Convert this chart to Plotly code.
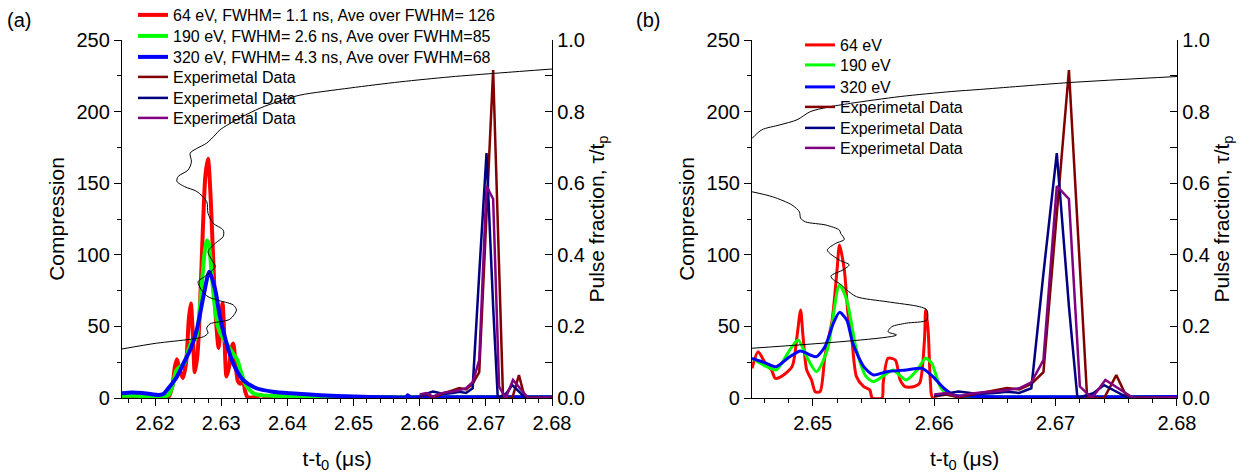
import plotly.graph_objects as go

# ---------------- Panel (a): simulated compression ----------------
a_t64 = [2.6150, 2.6160, 2.6170, 2.6180, 2.6190, 2.6200, 2.6210, 2.6220, 2.6226, 2.6230,
         2.6233, 2.6237, 2.6242, 2.6247, 2.6251, 2.6254, 2.6257, 2.6260, 2.6264, 2.6268,
         2.6272, 2.6276, 2.6280, 2.6284, 2.6288, 2.6292, 2.6296, 2.6299, 2.6302, 2.6305,
         2.6308, 2.6312, 2.6315, 2.6318, 2.6321, 2.6325, 2.6329, 2.6333, 2.6336, 2.6340,
         2.6350, 2.6360, 2.6370, 2.6380, 2.6390, 2.6400, 2.6420, 2.6450, 2.6500, 2.6600,
         2.6700, 2.6800]
a_y64 = [0.5, 1.5, 0.5, 0.5, 1.5, 0.5, 0.5, 0.5, 8, 22,
         27, 20, 14, 25, 55, 66, 45, 18, 30, 65,
         115, 155, 167, 140, 95, 55, 35, 50, 66, 40,
         15, 22, 34, 38, 28, 12, 10, 12, 5, 0.5,
         0.5, 2, 0.5, 2, 0.5, 0.5, 0.5, 0.3, 0.3, 0.3,
         0.3, 0.3]

a_t190 = [2.6150, 2.6170, 2.6190, 2.6210, 2.6220, 2.6226, 2.6232, 2.6238, 2.6244, 2.6250,
          2.6256, 2.6262, 2.6266, 2.6270, 2.6274, 2.6278, 2.6281, 2.6285, 2.6290, 2.6295,
          2.6300, 2.6306, 2.6312, 2.6318, 2.6324, 2.6330, 2.6336, 2.6342, 2.6350, 2.6360,
          2.6380, 2.6400, 2.6424, 2.6450, 2.6500, 2.6600, 2.6800]
a_y190 = [1.5, 1.5, 1.0, 1.0, 2.0, 8, 19, 22, 24, 33,
          40, 42, 55, 75, 98, 110, 108, 90, 65, 50,
          44, 40, 35, 31, 27, 18, 10, 6, 3, 2,
          1.5, 1.2, 1.0, 0.8, 0.6, 0.5, 0.5]

a_t320 = [2.6150, 2.6165, 2.6180, 2.6195, 2.6205, 2.6213, 2.6222, 2.6233, 2.6243, 2.6253,
          2.6263, 2.6273, 2.6282, 2.6291, 2.6298, 2.6308, 2.6318, 2.6333, 2.6353, 2.6378,
          2.6404, 2.6450, 2.6500, 2.6550, 2.6580, 2.6582, 2.6585, 2.6600, 2.6800]
a_y320 = [3.3, 3.8, 3.5, 2.6, 2.1, 3.0, 7.9, 14.9, 24.2, 33.5,
          47.5, 70.7, 88.2, 75.4, 56.8, 38.2, 24.2, 12.6, 6.8, 4.4,
          3.3, 2.0, 1.0, 0.6, 0.6, 2.0, 0.6, 0.5, 0.5]

# Pulse fraction (tau/t_p) versus arrival time, panel (a)
a_frac_t = [2.6150, 2.6202, 2.6253, 2.6273, 2.6280, 2.6278, 2.6283, 2.6313, 2.6323, 2.6318,
            2.6293, 2.6280, 2.6270, 2.6265, 2.6275, 2.6291, 2.6286, 2.6280, 2.6291, 2.6303,
            2.6303, 2.6288, 2.6280, 2.6278, 2.6263, 2.6245, 2.6233, 2.6235, 2.6250, 2.6255,
            2.6253, 2.6263, 2.6278, 2.6291, 2.6298, 2.6328, 2.6359, 2.6389, 2.6419, 2.6495,
            2.6570, 2.6646, 2.6721, 2.6800]
a_frac = [0.137, 0.153, 0.164, 0.171, 0.181, 0.195, 0.207, 0.220, 0.246, 0.260,
          0.274, 0.283, 0.302, 0.325, 0.339, 0.367, 0.385, 0.409, 0.432, 0.451,
          0.469, 0.488, 0.516, 0.549, 0.577, 0.590, 0.605, 0.619, 0.637, 0.660,
          0.684, 0.697, 0.712, 0.735, 0.749, 0.782, 0.810, 0.830, 0.846, 0.866,
          0.883, 0.897, 0.908, 0.919]

# ---------------- Experimental data (both panels) ----------------
exp1_t = [2.6600, 2.6610, 2.6620, 2.6630, 2.6640, 2.6650, 2.6660, 2.6670, 2.6680, 2.6690,
          2.6711, 2.6726, 2.6740, 2.6750, 2.6759, 2.6770, 2.6800]
exp1_y = [1.0, 2.5, 0.5, 2.0, 4.0, 5.0, 7.0, 6.0, 9.8, 18.0,
          229.0, 0.0, 0.0, 16.0, 0.0, 0.5, 0.5]

exp2_t = [2.6600, 2.6610, 2.6620, 2.6630, 2.6640, 2.6650, 2.6660, 2.6670, 2.6680, 2.6690,
          2.6701, 2.6711, 2.6718, 2.6731, 2.6740, 2.6760, 2.6800]
exp2_y = [1.5, 3.0, 4.5, 3.5, 3.0, 3.5, 4.4, 3.5, 6.8, 87.0,
          171.0, 64.0, 0.0, 3.3, 9.0, 0.0, 0.3]

exp3_t = [2.6600, 2.6610, 2.6620, 2.6630, 2.6640, 2.6650, 2.6660, 2.6670, 2.6680, 2.6690,
          2.6701, 2.6711, 2.6720, 2.6730, 2.6741, 2.6764, 2.6800]
exp3_y = [2.5, 3.5, 1.0, 3.0, 4.0, 4.5, 5.6, 6.8, 11.0, 26.5,
          148.0, 139.0, 8.0, 0.0, 12.6, 0.0, 0.3]

# ---------------- Panel (b): simulated compression ----------------
b_t64 = [2.6450, 2.6455, 2.6461, 2.6466, 2.6469, 2.6474, 2.6483, 2.6487, 2.6490, 2.6492,
         2.6495, 2.6499, 2.6502, 2.6506, 2.6510, 2.6516, 2.6520, 2.6522, 2.6526, 2.6529,
         2.6532, 2.6536, 2.6542, 2.6547, 2.6549, 2.6557, 2.6558, 2.6562, 2.6568, 2.6572,
         2.6576, 2.6583, 2.6588, 2.6592, 2.6593, 2.6595, 2.6597, 2.6599, 2.6650, 2.6800]
b_y64 = [20.7, 32.3, 24.2, 19.6, 13.8, 14.9, 21.9, 42.8, 61.5, 42.8,
         19.6, 12.6, 4.4, 4.4, 28.8, 54.5, 89.4, 106.8, 89.4, 59.1,
         42.8, 14.9, 7.9, 5.6, 0.0, 0.0, 10.3, 27.7, 26.5, 12.6,
         7.9, 7.9, 10.3, 40.5, 61.5, 47.5, 10.3, 0.0, 0.0, 0.0]

b_t190 = [2.6450, 2.6462, 2.6470, 2.6481, 2.6488, 2.6495, 2.6503, 2.6512, 2.6522, 2.6528,
          2.6536, 2.6544, 2.6550, 2.6561, 2.6566, 2.6577, 2.6586, 2.6593, 2.6598, 2.6605,
          2.6612, 2.6630, 2.6800]
b_y190 = [27.7, 21.9, 19.6, 33.5, 40.5, 28.8, 18.4, 33.5, 78.9, 68.4,
          33.5, 14.9, 11.4, 17.2, 19.6, 12.6, 19.6, 27.7, 24.2, 7.9,
          2.1, 1.0, 1.0]

b_t320 = [2.6450, 2.6462, 2.6470, 2.6481, 2.6490, 2.6498, 2.6503, 2.6510, 2.6517, 2.6522,
          2.6528, 2.6533, 2.6542, 2.6550, 2.6561, 2.6577, 2.6590, 2.6599, 2.6608, 2.6616,
          2.6630, 2.6800]
b_y320 = [27.7, 24.2, 21.9, 28.8, 32.8, 30.0, 28.8, 35.8, 52.2, 59.8,
          54.5, 38.2, 21.9, 16.1, 18.4, 19.6, 20.7, 14.9, 6.8, 2.1,
          1.2, 1.0]

# Pulse fraction versus arrival time, panel (b); None splits the two visible branches
b_frac_t = [2.6450, 2.6569, 2.6562, 2.6565, 2.6577, 2.6594, 2.6594, 2.6588, 2.6561, 2.6536,
            2.6528, 2.6522, 2.6517, 2.6515, 2.6525, 2.6530, 2.6522, 2.6512, 2.6519, 2.6526,
            2.6523, 2.6522, 2.6511, 2.6494, 2.6490, 2.6489, 2.6483, 2.6467, 2.6450, None,
            2.6450, 2.6458, 2.6473, 2.6487, 2.6498, 2.6512, 2.6531, 2.6572, 2.6614, 2.6638,
            2.6711, 2.6800]
b_frac = [0.139, 0.176, 0.185, 0.199, 0.209, 0.218, 0.246, 0.255, 0.269, 0.283,
          0.302, 0.320, 0.330, 0.341, 0.358, 0.372, 0.385, 0.413, 0.432, 0.443,
          0.460, 0.469, 0.483, 0.492, 0.502, 0.520, 0.539, 0.562, 0.576, None,
          0.725, 0.749, 0.763, 0.777, 0.800, 0.812, 0.823, 0.842, 0.856, 0.862,
          0.881, 0.898]

labels_a = ["64 eV, FWHM= 1.1 ns, Ave over FWHM= 126",
            "190 eV, FWHM= 2.6 ns, Ave over FWHM=85",
            "320 eV, FWHM= 4.3 ns, Ave over FWHM=68"]
labels_b = ["64 eV", "190 eV", "320 eV"]
exp_label = "Experimetal Data"

sim_colors = ["#ff0000", "#00ff00", "#0000ff"]
exp_colors = ["#800000", "#000080", "#800080"]

FONT = "Liberation Sans, Arial, sans-serif"

# figure geometry (pixels) used to place the legend rows
W, H = 1256, 473
ML, MR, MT, MB = 122, 79, 40, 75
PW, PH = W - ML - MR, H - MT - MB


def px_x(px):
    return (px - ML) / PW


def px_y(py):
    return (H - MB - py) / PH


fig = go.Figure()

# one single-entry legend per row so the row pitch can be set freely
legend_rows_a = [15, 36, 57, 77, 98, 118]
legend_rows_b = [45, 65, 87, 107, 128, 148]
leg_names_a = ["legend"] + [f"legend{i}" for i in range(2, 7)]
leg_names_b = [f"legend{i}" for i in range(7, 13)]

# panel (a) simulations and experiment
k = 0
for t, y, name, c in zip([a_t64, a_t190, a_t320], [a_y64, a_y190, a_y320], labels_a, sim_colors):
    fig.add_trace(go.Scatter(x=t, y=y, mode="lines", name=name, xaxis="x", yaxis="y",
                             line=dict(color=c, width=4, shape="spline", smoothing=0.7),
                             legend=leg_names_a[k]))
    k += 1
for t, y, c in zip([exp1_t, exp2_t, exp3_t], [exp1_y, exp2_y, exp3_y], exp_colors):
    fig.add_trace(go.Scatter(x=t, y=y, mode="lines", name=exp_label, xaxis="x", yaxis="y",
                             line=dict(color=c, width=2.5), legend=leg_names_a[k]))
    k += 1
fig.add_trace(go.Scatter(x=a_frac_t, y=a_frac, mode="lines", xaxis="x", yaxis="y2",
                         line=dict(color="black", width=1, shape="spline", smoothing=0.8),
                         showlegend=False))

# panel (b)
k = 0
for t, y, name, c in zip([b_t64, b_t190, b_t320], [b_y64, b_y190, b_y320], labels_b, sim_colors):
    fig.add_trace(go.Scatter(x=t, y=y, mode="lines", name=name, xaxis="x2", yaxis="y3",
                             line=dict(color=c, width=3, shape="spline", smoothing=0.7),
                             legend=leg_names_b[k]))
    k += 1
for t, y, c in zip([exp1_t, exp2_t, exp3_t], [exp1_y, exp2_y, exp3_y], exp_colors):
    fig.add_trace(go.Scatter(x=t, y=y, mode="lines", name=exp_label, xaxis="x2", yaxis="y3",
                             line=dict(color=c, width=2.5), legend=leg_names_b[k]))
    k += 1
fig.add_trace(go.Scatter(x=b_frac_t, y=b_frac, mode="lines", xaxis="x2", yaxis="y4",
                         line=dict(color="black", width=1, shape="spline", smoothing=0.8),
                         showlegend=False, connectgaps=False))

tickfont = dict(family=FONT, size=20, color="black")
titlefont = dict(family=FONT, size=21, color="black")

xcommon = dict(showline=True, linecolor="black", linewidth=1.3, ticks="outside", ticklen=7,
               tickwidth=1.3, tickcolor="black", dtick=0.01, tick0=2.62, tickformat=".2f",
               showgrid=False, zeroline=False, tickfont=tickfont,
               minor=dict(ticks="outside", ticklen=4, dtick=0.002, tick0=2.62,
                          tickcolor="black", tickwidth=1.2),
               title=dict(text="t-t<sub>0</sub> (μs)", font=titlefont, standoff=18))
yleft = dict(showline=True, linecolor="black", linewidth=1.3, ticks="outside", ticklen=7,
             tickwidth=1.3, tickcolor="black", range=[0, 250], dtick=50, showgrid=False,
             zeroline=False, tickfont=tickfont,
             minor=dict(ticks="outside", ticklen=4, dtick=25, tickcolor="black", tickwidth=1.2),
             title=dict(text="Compression", font=titlefont, standoff=6))
yright = dict(showline=True, linecolor="black", linewidth=1.3, ticks="inside", ticklen=7,
              tickwidth=1.3, tickcolor="black", range=[0, 1], dtick=0.2, tickformat=".1f",
              showgrid=False, zeroline=False, tickfont=tickfont, side="right",
              minor=dict(ticks="inside", ticklen=7, dtick=0.1, tickcolor="black", tickwidth=1.2),
              title=dict(text="Pulse fraction, τ/t<sub>p</sub>", font=titlefont, standoff=3))

legfont = dict(family=FONT, size=16, color="black")

layout = dict(
    width=W, height=H,
    margin=dict(l=ML, r=MR, t=MT, b=MB, autoexpand=False),
    paper_bgcolor="white", plot_bgcolor="white",
    font=dict(family=FONT, color="black"),
    xaxis=dict(xcommon, domain=[0, 0.4076], range=[2.615, 2.68], anchor="y"),
    yaxis=dict(yleft, anchor="x"),
    yaxis2=dict(yright, anchor="x", overlaying="y"),
    xaxis2=dict(xcommon, domain=[0.5972, 1.0], range=[2.645, 2.68], anchor="y3"),
    yaxis3=dict(yleft, anchor="x2"),
    yaxis4=dict(yright, anchor="x2", overlaying="y3"),
    annotations=[
        dict(text="(a)", x=px_x(19), y=px_y(20), xref="paper", yref="paper", showarrow=False,
             xanchor="center", yanchor="middle", font=dict(family=FONT, size=20, color="black")),
        dict(text="(b)", x=px_x(648), y=px_y(20), xref="paper", yref="paper", showarrow=False,
             xanchor="center", yanchor="middle", font=dict(family=FONT, size=20, color="black")),
    ],
)
for name, row in zip(leg_names_a, legend_rows_a):
    layout[name] = dict(x=px_x(133), y=px_y(row), xanchor="left", yanchor="middle",
                        bgcolor="rgba(0,0,0,0)", font=legfont, borderwidth=0)
for name, row in zip(leg_names_b, legend_rows_b):
    layout[name] = dict(x=px_x(800), y=px_y(row), xanchor="left", yanchor="middle",
                        bgcolor="rgba(0,0,0,0)", font=legfont, borderwidth=0)

fig.update_layout(**layout)
fig.write_html("out.html")
